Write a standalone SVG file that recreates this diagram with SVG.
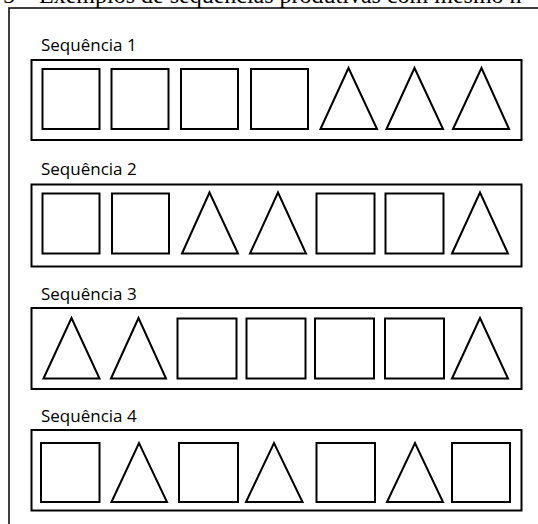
<svg xmlns="http://www.w3.org/2000/svg" width="538" height="524" viewBox="0 0 538 524">
<style>
.s{fill:none;stroke:#000;stroke-width:2}
.b{fill:#fff;stroke:#000;stroke-width:2}
.f{fill:none;stroke:#000;stroke-width:1.5}
.l{font-family:"Open Sans","Liberation Sans",sans-serif;font-size:17px;fill:#000}
.t{font-family:"Liberation Serif","Times New Roman",serif;font-size:24px;fill:#000}
</style>
<rect width="538" height="524" fill="#fff"/>
<text class="t" x="3" y="3">5 – Exemplos de sequências produtivas com mesmo n</text>
<rect class="f" x="9" y="8" width="540" height="530"/>
<g id="seq1">
<text class="l" x="41" y="51">Sequência 1</text>
<rect class="b" x="31.5" y="60" width="490" height="80"/>
<rect class="s" x="42.5" y="69" width="57" height="60"/>
<rect class="s" x="111.5" y="69" width="57" height="60"/>
<rect class="s" x="181" y="69" width="57" height="60"/>
<rect class="s" x="251" y="69" width="57" height="60"/>
<polygon class="s" points="320.5,129 348.5,68 377,129"/>
<polygon class="s" points="386.5,129 414.5,68 443,129"/>
<polygon class="s" points="453,129 481.5,68 509,129"/>
</g>
<g id="seq2">
<text class="l" x="41" y="175">Sequência 2</text>
<rect class="b" x="31.5" y="184.5" width="490" height="82"/>
<rect class="s" x="42.5" y="193.5" width="57" height="60"/>
<rect class="s" x="112" y="193.5" width="57" height="60"/>
<polygon class="s" points="182,253.5 209.5,192.5 238,253.5"/>
<polygon class="s" points="250,253.5 278,192.5 306,253.5"/>
<rect class="s" x="316.5" y="193.5" width="58" height="60"/>
<rect class="s" x="385.5" y="193.5" width="58" height="60"/>
<polygon class="s" points="452,253.5 480,192.5 508,253.5"/>
</g>
<g id="seq3">
<text class="l" x="41" y="300">Sequência 3</text>
<rect class="b" x="31.5" y="308" width="490" height="81"/>
<polygon class="s" points="43.5,378.5 71.5,318 99.5,378.5"/>
<polygon class="s" points="111,378.5 138.5,318 166,378.5"/>
<rect class="s" x="177.5" y="318.5" width="59" height="60"/>
<rect class="s" x="246.5" y="318.5" width="59" height="60"/>
<rect class="s" x="315" y="318.5" width="59" height="60"/>
<rect class="s" x="385" y="318.5" width="59" height="60"/>
<polygon class="s" points="452,378.5 480,318 508,378.5"/>
</g>
<g id="seq4">
<text class="l" x="41" y="422">Sequência 4</text>
<rect class="b" x="31.5" y="430" width="490" height="80.5"/>
<rect class="s" x="41" y="443" width="58.5" height="59"/>
<polygon class="s" points="111.5,502 139,443 167,502"/>
<rect class="s" x="179" y="443" width="59" height="59"/>
<polygon class="s" points="246,502 274,443 302.5,502"/>
<rect class="s" x="316.5" y="443" width="58.5" height="59"/>
<polygon class="s" points="387,502 415,443 443,502"/>
<rect class="s" x="452" y="443" width="58" height="59"/>
</g>
</svg>
